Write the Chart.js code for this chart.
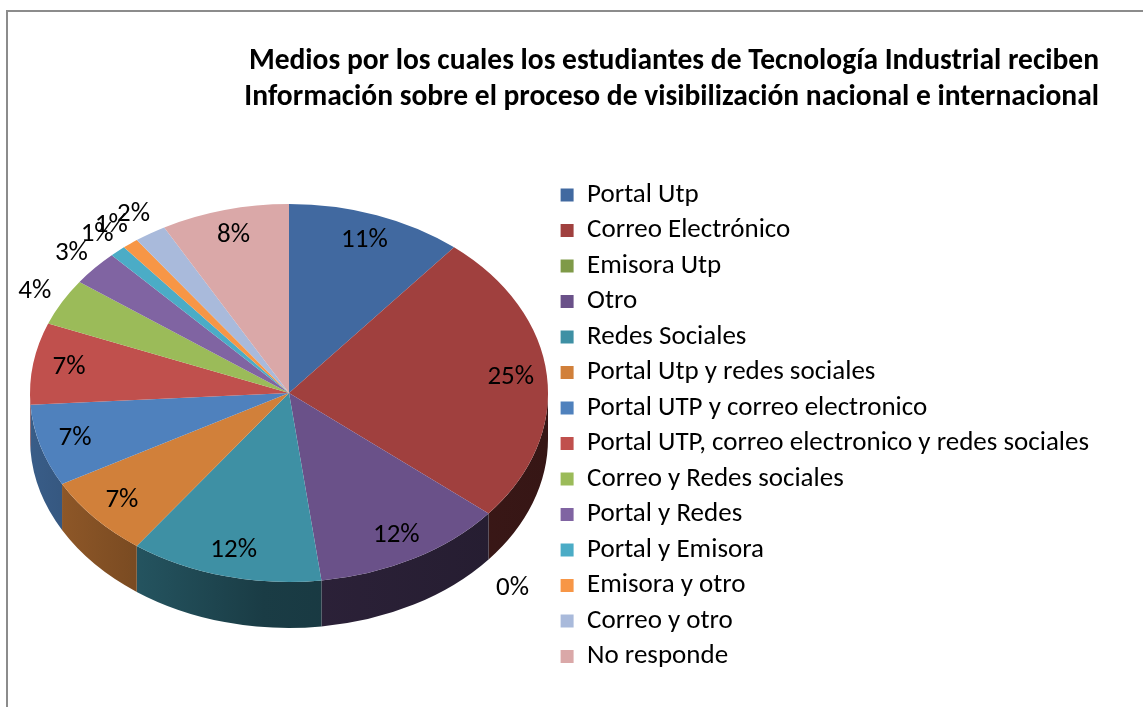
<!DOCTYPE html>
<html>
<head>
<meta charset="utf-8">
<script src="https://cdn.jsdelivr.net/npm/chart.js@4"></script>
<style>
  body { margin: 0; background: #fff; }
  #frame { position: absolute; left: 6px; top: 10px; width: 1200px; height: 800px; border: 2px solid #8c8c8c; }
  #chart { position: absolute; left: 0; top: 0; }
</style>
</head>
<body>
<div id="frame"></div>
<canvas id="chart" width="1143" height="707"></canvas>
<script>
// data
const categories = [
    'Portal Utp', 'Correo Electrónico', 'Emisora Utp', 'Otro', 'Redes Sociales',
    'Portal Utp y redes sociales', 'Portal UTP y correo electronico',
    'Portal UTP, correo electronico y redes sociales', 'Correo y Redes sociales',
    'Portal y Redes', 'Portal y Emisora', 'Emisora y otro', 'Correo y otro', 'No responde'
];
const percentages = [11, 25, 0, 12, 12, 7, 7, 7, 4, 3, 1, 1, 2, 8];
const titleLines = [
    'Medios por los cuales los estudiantes de Tecnología Industrial reciben',
    'Información sobre el proceso de visibilización nacional e internacional'
];

// excel 2007 style palette
const sliceColors = [
    '#4169A0', '#A0403E', '#7F9A48', '#6A5189', '#3E90A4', '#D1803A', '#4F81BD',
    '#C0504D', '#9BBB59', '#8064A2', '#4BACC6', '#F79646', '#A9BADB', '#DAA8A8'
];

const FONT = 'Carlito, Lato, sans-serif';

// where the tilted pie sits on the page
const PIE_X = 289, PIE_Y = 393, PIE_R = 259, TILT = 189 / 259, DEPTH = 46;

function shade(hex, f) {
    const n = parseInt(hex.slice(1), 16);
    const r = Math.round(((n >> 16) & 255) * f);
    const g = Math.round(((n >> 8) & 255) * f);
    const b = Math.round((n & 255) * f);
    return `rgb(${r},${g},${b})`;
}

// squashes the pie into an ellipse and draws the side wall under it
const pie3d = {
    id: 'pie3d',
    beforeDatasetsDraw(chart) {
        const ctx = chart.ctx;
        const arcs = chart.getDatasetMeta(0).data;
        const cx = arcs[0].x, cy = arcs[0].y, R = arcs[0].outerRadius;
        const d = DEPTH / TILT;
        ctx.save();
        ctx.translate(PIE_X, PIE_Y);
        ctx.scale(1, TILT);
        ctx.translate(-cx, -cy);
        arcs.forEach((arc, i) => {
            const a = Math.max(arc.startAngle, 0);
            const b = Math.min(arc.endAngle, Math.PI);
            if (b <= a) return;
            const c = sliceColors[i];
            const grad = ctx.createLinearGradient(cx - R, 0, cx + R, 0);
            grad.addColorStop(0, shade(c, 0.72));
            grad.addColorStop(0.45, shade(c, 0.42));
            grad.addColorStop(1, shade(c, 0.34));
            ctx.beginPath();
            ctx.arc(cx, cy, R, a, b);
            ctx.lineTo(cx + R * Math.cos(b), cy + R * Math.sin(b) + d);
            ctx.arc(cx, cy + d, R, b, a, true);
            ctx.closePath();
            ctx.fillStyle = grad;
            ctx.fill();
        });
    },
    afterDatasetsDraw(chart) {
        const ctx = chart.ctx;
        ctx.restore();
        // percentage labels, small slices go outside
        const arcs = chart.getDatasetMeta(0).data;
        ctx.save();
        ctx.font = `27px ${FONT}`;
        ctx.fillStyle = '#000';
        ctx.textAlign = 'center';
        ctx.textBaseline = 'middle';
        arcs.forEach((arc, i) => {
            const mid = (arc.startAngle + arc.endAngle) / 2;
            const inside = percentages[i] >= 5;
            const r = inside ? 0.86 : 1.12;
            const x = PIE_X + Math.cos(mid) * arc.outerRadius * r;
            let y = PIE_Y + Math.sin(mid) * arc.outerRadius * r * TILT;
            if (!inside && Math.sin(mid) > 0) y += DEPTH + 14;
            ctx.fillText(percentages[i] + '%', x, y);
        });
        ctx.restore();
    }
};

new Chart(document.getElementById('chart'), {
    type: 'pie',
    data: {
        labels: categories,
        datasets: [{
            data: percentages,
            backgroundColor: sliceColors,
            borderWidth: 0,
            radius: PIE_R,
            clip: false
        }]
    },
    options: {
        responsive: false,
        animation: false,
        events: [],
        layout: { padding: { left: 10, right: 44, top: 0, bottom: 0 } },
        plugins: {
            title: {
                display: true,
                text: titleLines,
                align: 'end',
                color: '#000',
                font: { family: FONT, size: 29.5, weight: 'bold', lineHeight: 1.2 },
                padding: { top: 44.3, bottom: 57.9 }
            },
            legend: {
                position: 'right',
                align: 'start',
                fullSize: false,
                maxWidth: 620,
                labels: {
                    boxWidth: 13,
                    boxHeight: 13,
                    padding: 8.5,
                    color: '#000',
                    font: { family: FONT, size: 27 }
                }
            },
            tooltip: { enabled: false }
        }
    },
    plugins: [pie3d]
});
</script>
</body>
</html>
